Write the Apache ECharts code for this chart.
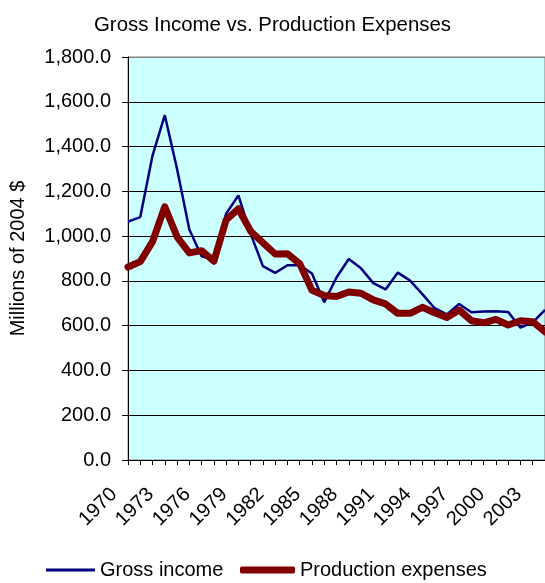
<!DOCTYPE html>
<html>
<head>
<meta charset="utf-8">
<script src="https://cdn.jsdelivr.net/npm/echarts@6/dist/echarts.min.js"></script>
<style>
html,body{margin:0;padding:0;background:#fff;}
#chart{width:545px;height:583px;}
</style>
</head>
<body>
<div id="chart"></div>
<script>
const years = ['1970','1971','1972','1973','1974','1975','1976','1977','1978','1979',
  '1980','1981','1982','1983','1984','1985','1986','1987','1988','1989',
  '1990','1991','1992','1993','1994','1995','1996','1997','1998','1999',
  '2000','2001','2002','2003','2004'];
const grossIncome = [1065,1085,1360,1540,1300,1030,910,895,1100,1182,
  1010,866,836,870,870,833,705,815,898,856,
  790,762,837,801,741,678,650,697,660,663,
  664,661,591,615,670];
const productionExpenses = [862,886,975,1131,997,925,935,888,1072,1122,
  1022,970,920,921,877,758,735,730,750,745,
  715,697,655,655,682,658,637,670,622,613,
  628,603,622,618,572];
const yTicks = [0,200,400,600,800,1000,1200,1400,1600,1800];

const FONT = "'Liberation Sans', Arial, sans-serif";
const chart = echarts.init(document.getElementById('chart'), null, {renderer:'canvas'});
chart.setOption({
  animation: false,
  backgroundColor: '#ffffff',
  title: {
    text: 'Gross Income vs. Production Expenses',
    left: 'center',
    top: 10,
    textStyle: {fontFamily: FONT, fontSize: 20.4, fontWeight: 'normal', color: '#000'}
  },
  grid: {
    left: 128, right: -3, top: 57, bottom: 123,
    show: true, backgroundColor: '#CCFFFF', borderColor: '#808080', borderWidth: 1
  },
  legend: [
    {
      left: 46, top: 560, padding: 0,
      itemWidth: 49, itemHeight: 3, itemGap: 0,
      icon: 'rect',
      textStyle: {fontFamily: FONT, fontSize: 20, color: '#000'},
      data: ['Gross income']
    },
    {
      left: 240, top: 560, padding: 0,
      itemWidth: 55, itemHeight: 7, itemGap: 0,
      icon: 'roundRect',
      textStyle: {fontFamily: FONT, fontSize: 20, color: '#000'},
      data: ['Production expenses']
    }
  ],
  xAxis: {
    type: 'category',
    data: years,
    boundaryGap: false,
    axisLine: {lineStyle: {color: '#000', width: 1}},
    axisTick: {interval: 0, length: 5, lineStyle: {color: '#000'}},
    axisLabel: {
      interval: 2, rotate: 45, margin: 17, padding: [0, 20, 0, 0],
      fontFamily: FONT, fontSize: 20, color: '#000'
    },
    splitLine: {show: false}
  },
  yAxis: {
    type: 'value',
    min: 0, max: 1800, interval: 200,
    name: 'Millions of 2004 $',
    nameLocation: 'middle',
    nameGap: 100,
    nameTextStyle: {fontFamily: FONT, fontSize: 20, color: '#000'},
    axisLine: {show: true, lineStyle: {color: '#000', width: 1}},
    axisTick: {show: true, length: 6, lineStyle: {color: '#000'}},
    axisLabel: {
      margin: 17, fontFamily: FONT, fontSize: 20, color: '#000',
      formatter: v => v.toLocaleString('en-US', {minimumFractionDigits:1, maximumFractionDigits:1})
    },
    splitLine: {show: true, lineStyle: {color: ['#000','#000','#000','#000','#000','#000','#000','#000','#000','#808080'], width: 1}}
  },
  series: [
    {
      name: 'Gross income', type: 'line', data: grossIncome,
      symbol: 'none', z: 2,
      lineStyle: {color: '#000080', width: 2.5},
      itemStyle: {color: '#000080'}
    },
    {
      name: 'Production expenses', type: 'line', data: productionExpenses,
      symbol: 'none', z: 3,
      lineStyle: {color: '#800000', width: 7, cap: 'round', join: 'round'},
      itemStyle: {color: '#800000'}
    }
  ]
});
</script>
</body>
</html>
